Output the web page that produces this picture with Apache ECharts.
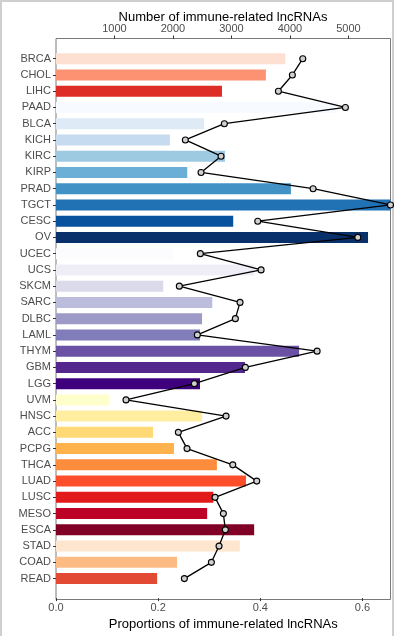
<!DOCTYPE html>
<html>
<head>
<meta charset="utf-8">
<script src="https://cdn.jsdelivr.net/npm/echarts@6/dist/echarts.min.js"></script>
<style>
html,body{margin:0;padding:0;background:#fff;}
#c{width:394px;height:636px;}
</style>
</head>
<body>
<div id="c"></div>
<script>
var categories = ['BRCA','CHOL','LIHC','PAAD','BLCA','KICH','KIRC','KIRP','PRAD','TGCT','CESC','OV','UCEC','UCS','SKCM','SARC','DLBC','LAML','THYM','GBM','LGG','UVM','HNSC','ACC','PCPG','THCA','LUAD','LUSC','MESO','ESCA','STAD','COAD','READ'];
var proportions = [0.449,0.411,0.325,0.552,0.290,0.223,0.331,0.257,0.460,0.66,0.347,0.611,0.231,0.388,0.210,0.306,0.286,0.282,0.476,0.370,0.282,0.104,0.286,0.190,0.231,0.315,0.372,0.308,0.296,0.388,0.360,0.237,0.198];
var counts = [4220,4042,3803,4949,2879,2212,2822,2480,4396,5720,3450,5161,2468,3507,2109,3147,3067,2417,4465,3238,2366,1197,2908,2092,2241,3023,3433,2720,2862,2896,2788,2657,2195];
var barColors = ['#FEE0D2','#FC9272','#DE2D26','#F7FBFF','#DEEBF7','#C6DBEF','#9ECAE1','#6BAED6','#4292C6','#2171B5','#08519C','#08306B','#FCFBFD','#EFEDF5','#DADAEB','#BCBDDC','#9E9AC8','#807DBA','#6A51A3','#54278F','#3F007D','#FFFFCC','#FFEDA0','#FED976','#FEB24C','#FD8D3C','#FC4E2A','#E31A1C','#BD0026','#800026','#FEE6CE','#FDBB84','#E34A33'];
var bottomTicks = [0, 0.2, 0.4, 0.6];
var topTicks = [1000, 2000, 3000, 4000, 5000];
var propMax = 0.655, countMax = 5720;
var topTitle = 'Number of immune-related lncRNAs';
var bottomTitle = 'Proportions of immune-related lncRNAs';

var FONT = '"Liberation Sans", Arial, sans-serif';
var chart = echarts.init(document.getElementById('c'), null, {renderer:'canvas'});
chart.setOption({
  animation:false,
  backgroundColor:'#ffffff',
  textStyle:{fontFamily:FONT},
  graphic:[
    {type:'rect', left:0, top:0, shape:{width:2, height:636}, style:{fill:'#cfcfcf'}, silent:true},
    {type:'rect', left:0, top:0, shape:{width:394, height:2}, style:{fill:'#cfcfcf'}, silent:true},
    {type:'rect', right:0, top:0, shape:{width:2, height:636}, style:{fill:'#cfcfcf'}, silent:true},
    {type:'text', x:223, y:17, silent:true,
     style:{text:topTitle, fill:'#000', font:'13px "Liberation Sans", Arial, sans-serif', textAlign:'center', textVerticalAlign:'middle'}}
  ],
  grid:[
    {left:56, right:3.5, top:38.5, bottom:36.5, show:true, borderColor:'#7a7a7a', borderWidth:1, backgroundColor:'transparent'},
    {left:56, right:3.5, top:50.6, bottom:47.9}
  ],
  xAxis:[
    {gridIndex:0, type:'value', show:false, min:0, max:1},
    {gridIndex:1, type:'value', position:'bottom', min:0, max:propMax, interval:0.2, offset:11.4,
     axisLine:{show:false}, splitLine:{show:false},
     axisTick:{show:true, length:3, lineStyle:{color:'#333'},
       customValues: bottomTicks},
     axisLabel:{color:'#4d4d4d', fontSize:11, margin:4, fontFamily:FONT,
       customValues: bottomTicks,
       formatter:function(v){return v.toFixed(1);}},
     name:bottomTitle, nameLocation:'middle', nameGap:18,
     nameTextStyle:{color:'#000', fontSize:13, fontFamily:FONT}},
    {gridIndex:1, type:'value', position:'top', min:0, max:countMax, interval:1000, offset:12.1,
     axisLine:{show:false}, splitLine:{show:false},
     axisTick:{show:true, length:3, lineStyle:{color:'#333'}, customValues: topTicks},
     axisLabel:{color:'#4d4d4d', fontSize:11, margin:4, fontFamily:FONT, customValues: topTicks,
       formatter:function(v){return String(v);}}}
  ],
  yAxis:[
    {gridIndex:0, type:'value', show:false, min:0, max:1},
    {gridIndex:1, type:'category', data:categories, inverse:true,
     axisLine:{show:false},
     axisTick:{show:true, length:3, alignWithLabel:true, lineStyle:{color:'#333'}},
     axisLabel:{color:'#4d4d4d', fontSize:11, margin:5, fontFamily:FONT, interval:0},
     splitLine:{show:false}}
  ],
  series:[
    {type:'bar', xAxisIndex:1, yAxisIndex:1, barWidth:11,
     data: proportions.map(function(v,i){return {value:v, itemStyle:{color:barColors[i]}};}),
     z:2},
    {type:'line', xAxisIndex:2, yAxisIndex:1, data:counts,
     symbol:'circle', symbolSize:6, showSymbol:true,
     lineStyle:{color:'#000', width:1.3},
     itemStyle:{color:'#d0d0d0', borderColor:'#000', borderWidth:1.1},
     z:3}
  ]
});
</script>
</body>
</html>
